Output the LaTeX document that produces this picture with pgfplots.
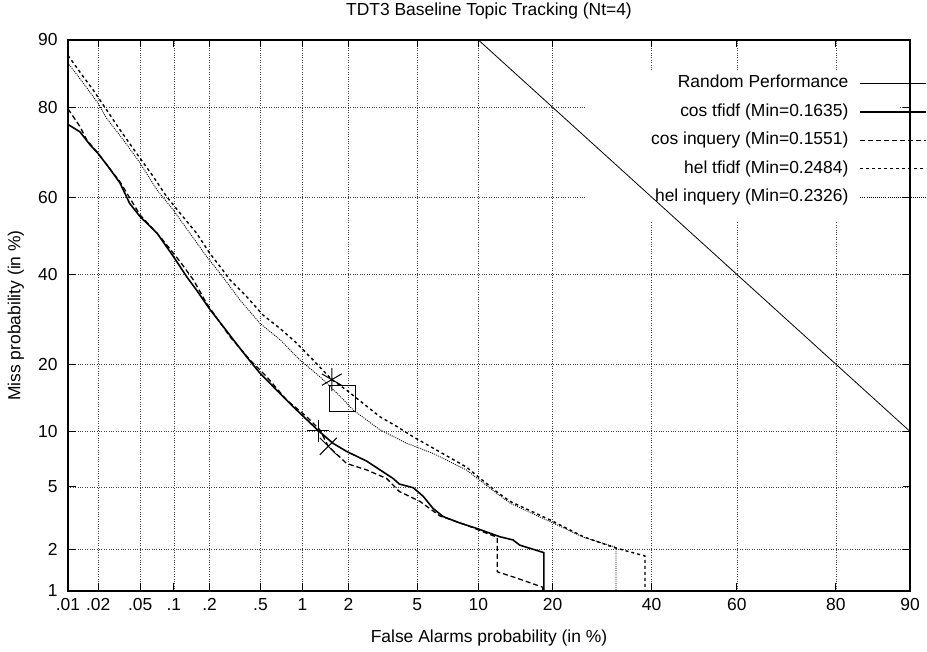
\documentclass[border=0pt]{standalone}
\usepackage{fontspec}
\setmainfont{Liberation Sans}
\usepackage{pgfplots}
\usepackage{pgfplotstable}
\pgfplotsset{compat=1.18}
% DET (normal deviate) scale: percentages are mapped to probit units
\pgfplotsset{table/det/.style={x expr={probit(\thisrowno{0})}, y expr={probit(\thisrowno{1})}}}

\pgfplotstableread{
pfa pmiss
10 90
90 10
}\randomperf

\pgfplotstableread{
pfa pmiss
0.01 76.7
0.0132 75.2
0.0167 72.4
0.020 70.5
0.025 67.5
0.0325 63.5
0.040 58.4
0.050 55.0
0.071 50.7
0.099 44.6
0.129 39.4
0.156 36.1
0.202 31.4
0.258 27.6
0.31 24.8
0.393 21.4
0.496 18.4
0.694 15.1
0.91 12.7
1.28 10.1
1.60 8.7
1.95 7.9
2.59 7.0
3.69 5.6
4.0 5.2
4.76 4.95
5.38 4.4
6.06 3.7
6.8 3.3
8.2 3.0
9.8 2.77
11.3 2.57
12.4 2.44
14.1 2.32
15.0 2.14
17.0 2.0
18.6 1.90
18.6 1.0
}\costfidf

\pgfplotstableread{
pfa pmiss
0.01 79.7
0.0132 76.3
0.0154 73.5
0.0194 70.9
0.0325 63.8
0.050 55.4
0.0755 49.8
0.113 43.3
0.147 38.6
0.189 32.9
0.292 25.4
0.417 20.8
0.556 17.8
0.776 14.1
1.07 11.8
1.31 10.2
1.49 8.4
1.95 6.8
2.59 6.26
3.39 5.6
4.0 4.7
5.17 4.1
6.55 3.33
8.8 2.91
10.9 2.57
12.1 2.42
12.1 1.39
14.6 1.25
17.0 1.13
18.4 1.07
18.4 1.0
}\cosinquery

\pgfplotstableread{
pfa pmiss
0.01 88.1
0.0143 85.1
0.0179 83.0
0.0242 79.5
0.0325 75.6
0.0465 70.5
0.0658 65.1
0.0866 60.1
0.113 55.9
0.156 50.7
0.20 45.5
0.25 41.5
0.292 38.6
0.393 34.5
0.525 30.1
0.694 27.2
0.91 24.1
1.18 20.8
1.57 17.3
1.95 15.6
2.47 13.6
3.1 11.8
3.86 10.6
4.76 9.4
5.83 8.4
8.8 6.5
12.0 4.7
13.7 4.1
19.6 3.14
25.5 2.44
31.5 2.07
38.5 1.80
38.5 1.0
}\heltfidf

\pgfplotstableread{
pfa pmiss
0.01 87.1
0.0143 84.1
0.020 80.7
0.0242 77.9
0.0349 73.5
0.050 68.3
0.071 61.8
0.099 56.7
0.137 50.7
0.189 44.6
0.243 40.3
0.349 33.7
0.496 28.3
0.694 24.8
0.96 20.8
1.31 17.8
1.84 14.3
2.14 12.7
3.1 10.2
4.4 8.7
6.06 7.7
8.8 6.26
12.0 4.6
13.7 4.0
19.6 3.06
25.5 2.42
32.1 2.07
32.1 1.0
}\helinquery

\begin{document}
\begin{tikzpicture}[font=\fontsize{17.5}{21}\selectfont,
  declare function={
    pdtail(\q)=sqrt(-2*ln(\q));
    pdA(\t)=\t-(2.515517+0.802853*\t+0.010328*\t*\t)/(1+1.432788*\t+0.189269*\t*\t+0.001308*\t*\t*\t);
    probit(\p)=ifthenelse(\p<50,-1,1)*pdA(pdtail(min(\p,100-\p)/100));
  }]
\begin{axis}[
  scale only axis, width=842bp, height=551bp,
  xmin=-3.719016, xmax=1.281552, ymin=-2.326348, ymax=1.281552,
  xtick={-3.719016,-3.540084,-3.290527,-3.090232,-2.878162,-2.575829,-2.326348,-2.053749,-1.644854,-1.281552,-0.841621,-0.253347,0.253347,0.841621,1.281552},
  xticklabels={.01,.02,.05,.1,.2,.5,1,2,5,10,20,40,60,80,90},
  ytick={-2.326348,-2.053749,-1.644854,-1.281552,-0.841621,-0.253347,0.253347,0.841621,1.281552},
  yticklabels={1,2,5,10,20,40,60,80,90},
  grid=major,
  major grid style={black!75, dotted, line width=0.6pt},
  tick align=inside, major tick length=7.5bp,
  tick style={black, line width=0.9pt},
  axis line style={black, line width=1.3pt},
  xticklabel style={yshift=-4bp},
  yticklabel style={xshift=-7bp},
  title={TDT3 Baseline Topic Tracking (Nt=4)},
  title style={at={(axis description cs:0.5,1.0420)}, anchor=center, inner sep=0pt},
  xlabel={False Alarms probability (in \%)},
  xlabel style={at={(axis description cs:0.5,-0.0844)}, anchor=center, inner sep=0pt},
  ylabel={Miss probability (in \%)},
  ylabel style={at={(axis description cs:-0.0618,0.5)}, anchor=center, inner sep=0pt},
  legend plot pos=right,
  legend cell align=right,
  legend image code/.code={\draw[#1] (0bp,0bp) -- (66bp,0bp);},
  legend style={at={(1,1)}, anchor=north east, xshift=17bp, yshift=-34.8bp,
    draw=none, fill=none, inner sep=0pt, outer sep=0pt,
    row sep=11.5bp, column sep=11bp,
    nodes={inner sep=0pt, text height=13bp, text depth=4bp}},
]
\coordinate (O) at (rel axis cs:0,0);
% blank area behind the key, as in the original
\fill[white] (axis cs:-0.637,0.09) rectangle (axis cs:1.2216,1.086);

\addplot[black, line width=0.8pt] table[det] {\randomperf};
\addlegendentry{Random Performance}
\addplot[black, line width=1.6pt] table[det] {\costfidf};
\addlegendentry{cos tfidf (Min=0.1635)}
\addplot[black, line width=1.3pt, dash pattern=on 5bp off 3bp] table[det] {\cosinquery};
\addlegendentry{cos inquery (Min=0.1551)}
\addplot[black, line width=1.4pt, dash pattern=on 3bp off 3bp] table[det] {\heltfidf};
\addlegendentry{hel tfidf (Min=0.2484)}
\addplot[black, line width=0.85pt, dash pattern=on 1bp off 1.1bp] table[det] {\helinquery};
\addlegendentry{hel inquery (Min=0.2326)}

% minimum-cost points
\addplot[forget plot, only marks, mark=+, mark size=11bp, mark options={line width=1pt, black}] table[det, row sep=\\] {pfa pmiss\\ 1.28 10.1\\};
\addplot[forget plot, only marks, mark=x, mark size=12bp, mark options={line width=1pt, black}] table[det, row sep=\\] {pfa pmiss\\ 1.49 8.4\\};
\addplot[forget plot, only marks, mark=asterisk, mark size=11.5bp, mark options={line width=1pt, black}] table[det, row sep=\\] {pfa pmiss\\ 1.57 17.3\\};
\addplot[forget plot, only marks, mark=square, mark size=12.8bp, mark options={line width=1pt, black}] table[det, row sep=\\] {pfa pmiss\\ 1.84 14.3\\};
\end{axis}
\pgfresetboundingbox
\path[use as bounding box] ([shift={(-68bp,-61bp)}]O) rectangle ([shift={(859bp,591bp)}]O);
\end{tikzpicture}
\end{document}
